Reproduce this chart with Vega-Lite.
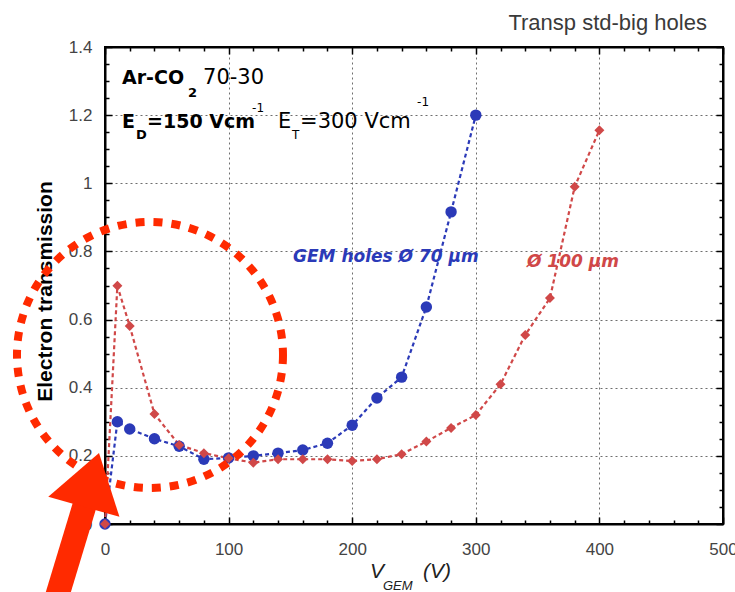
{
  "$schema": "https://vega.github.io/schema/vega-lite/v6.json",
  "width": 618,
  "height": 477,
  "autosize": "none",
  "padding": {"left": 105, "top": 47, "right": 12, "bottom": 68},
  "background": "white",
  "config": {"view": {"stroke": "black", "strokeWidth": 2}},
  "datasets": {
    "curves": [
      {"v": 0, "t": 0, "s": "GEM holes Ø 70 µm"},
      {"v": 10, "t": 0.30, "s": "GEM holes Ø 70 µm"},
      {"v": 20, "t": 0.279, "s": "GEM holes Ø 70 µm"},
      {"v": 40, "t": 0.25, "s": "GEM holes Ø 70 µm"},
      {"v": 60, "t": 0.228, "s": "GEM holes Ø 70 µm"},
      {"v": 80, "t": 0.19, "s": "GEM holes Ø 70 µm"},
      {"v": 100, "t": 0.194, "s": "GEM holes Ø 70 µm"},
      {"v": 120, "t": 0.20, "s": "GEM holes Ø 70 µm"},
      {"v": 140, "t": 0.208, "s": "GEM holes Ø 70 µm"},
      {"v": 160, "t": 0.217, "s": "GEM holes Ø 70 µm"},
      {"v": 180, "t": 0.237, "s": "GEM holes Ø 70 µm"},
      {"v": 200, "t": 0.29, "s": "GEM holes Ø 70 µm"},
      {"v": 220, "t": 0.37, "s": "GEM holes Ø 70 µm"},
      {"v": 240, "t": 0.431, "s": "GEM holes Ø 70 µm"},
      {"v": 260, "t": 0.637, "s": "GEM holes Ø 70 µm"},
      {"v": 280, "t": 0.916, "s": "GEM holes Ø 70 µm"},
      {"v": 300, "t": 1.2, "s": "GEM holes Ø 70 µm"},
      {"v": 0, "t": 0, "s": "Ø 100 µm"},
      {"v": 10, "t": 0.699, "s": "Ø 100 µm"},
      {"v": 20, "t": 0.581, "s": "Ø 100 µm"},
      {"v": 40, "t": 0.323, "s": "Ø 100 µm"},
      {"v": 60, "t": 0.232, "s": "Ø 100 µm"},
      {"v": 80, "t": 0.208, "s": "Ø 100 µm"},
      {"v": 100, "t": 0.193, "s": "Ø 100 µm"},
      {"v": 120, "t": 0.18, "s": "Ø 100 µm"},
      {"v": 140, "t": 0.19, "s": "Ø 100 µm"},
      {"v": 160, "t": 0.19, "s": "Ø 100 µm"},
      {"v": 180, "t": 0.19, "s": "Ø 100 µm"},
      {"v": 200, "t": 0.185, "s": "Ø 100 µm"},
      {"v": 220, "t": 0.19, "s": "Ø 100 µm"},
      {"v": 240, "t": 0.205, "s": "Ø 100 µm"},
      {"v": 260, "t": 0.242, "s": "Ø 100 µm"},
      {"v": 280, "t": 0.282, "s": "Ø 100 µm"},
      {"v": 300, "t": 0.32, "s": "Ø 100 µm"},
      {"v": 320, "t": 0.41, "s": "Ø 100 µm"},
      {"v": 340, "t": 0.555, "s": "Ø 100 µm"},
      {"v": 360, "t": 0.663, "s": "Ø 100 µm"},
      {"v": 380, "t": 0.99, "s": "Ø 100 µm"},
      {"v": 400, "t": 1.156, "s": "Ø 100 µm"}
    ]
  },
  "layer": [
    {
      "layer": [
        {
          "data": {"name": "curves"},
          "mark": {"type": "line", "strokeDash": [4, 3], "strokeWidth": 2.2},
          "encoding": {
            "x": {"field": "v", "type": "quantitative",
              "scale": {"domain": [0, 500], "nice": false, "zero": false},
              "axis": {
                "values": [0, 100, 200, 300, 400, 500],
                "format": "d",
                "labelFont": "Liberation Sans", "labelFontSize": 17, "labelColor": "#444",
                "labelPadding": 24, "labelFlush": false, "labelOverlap": false,
                "tickSize": -7, "tickColor": "black", "tickWidth": 1.5,
                "domainColor": "black", "domainWidth": 2,
                "grid": true, "gridDash": [2, 3], "gridColor": "#555",
                "gridOpacity": {"condition": {"test": "datum.value > 0 && datum.value < 500", "value": 0.85}, "value": 0},
                "title": null
              }},
            "y": {"field": "t", "type": "quantitative",
              "scale": {"domain": [0, 1.4], "nice": false, "zero": false},
              "axis": {
                "values": [0, 0.2, 0.4, 0.6, 0.8, 1, 1.2, 1.4],
                "format": ".1~f",
                "labelFont": "Liberation Sans", "labelFontSize": 17, "labelColor": "#444",
                "labelPadding": 20, "labelFlush": false, "labelOverlap": false,
                "tickSize": -7, "tickColor": "black", "tickWidth": 1.5,
                "domainColor": "black", "domainWidth": 2,
                "grid": true, "gridDash": [2, 3], "gridColor": "#555",
                "gridOpacity": {"condition": {"test": "datum.value > 0.01 && datum.value < 1.39", "value": 0.85}, "value": 0},
                "title": "Electron transmission",
                "titleFont": "Liberation Sans", "titleFontSize": 21, "titleFontWeight": "bold", "titleColor": "black",
                "titleX": -60, "titleY": 244, "titleBaseline": "middle", "titleAngle": -90, "titleAlign": "center"
              }},
            "color": {"field": "s", "type": "nominal", "legend": null,
              "scale": {"domain": ["GEM holes Ø 70 µm", "Ø 100 µm"], "range": ["#2b3ab8", "#d04848"]}}
          }
        },
        {
          "data": {"name": "curves"},
          "mark": {"type": "point", "filled": true, "opacity": 1},
          "encoding": {
            "x": {"field": "v", "type": "quantitative", "scale": {"domain": [0, 500], "nice": false, "zero": false}},
            "y": {"field": "t", "type": "quantitative", "scale": {"domain": [0, 1.4], "nice": false, "zero": false}},
            "color": {"field": "s", "type": "nominal", "legend": null,
              "scale": {"domain": ["GEM holes Ø 70 µm", "Ø 100 µm"], "range": ["#1e2ed2", "#dc3b35"]}},
            "shape": {"field": "s", "type": "nominal", "legend": null,
              "scale": {"domain": ["GEM holes Ø 70 µm", "Ø 100 µm"], "range": ["circle", "diamond"]}},
            "size": {"field": "s", "type": "nominal", "legend": null,
              "scale": {"domain": ["GEM holes Ø 70 µm", "Ø 100 µm"], "range": [130, 100]}}
          }
        },
        {
          "data": {"values": [
            {"v": 487, "t": 1.45, "label": "Transp std-big holes"}
          ]},
          "mark": {"type": "text", "align": "right", "baseline": "alphabetic", "font": "Liberation Sans", "fontSize": 22, "color": "#3a3a3a"},
          "encoding": {
            "x": {"field": "v", "type": "quantitative", "scale": {"domain": [0, 500], "nice": false, "zero": false}},
            "y": {"field": "t", "type": "quantitative", "scale": {"domain": [0, 1.4], "nice": false, "zero": false}},
            "text": {"field": "label"}
          }
        },
        {
          "data": {"values": [
            {"v": 13.75, "t": 1.2915, "label": "Ar-CO"},
            {"v": 13.75, "t": 1.1623, "label": "E"},
            {"v": 34.0, "t": 1.1623, "label": "=150 Vcm"}
          ]},
          "mark": {"type": "text", "align": "left", "baseline": "alphabetic", "font": "DejaVu Sans", "fontSize": 19, "fontWeight": "bold", "color": "black"},
          "encoding": {
            "x": {"field": "v", "type": "quantitative", "scale": {"domain": [0, 500], "nice": false, "zero": false}},
            "y": {"field": "t", "type": "quantitative", "scale": {"domain": [0, 1.4], "nice": false, "zero": false}},
            "text": {"field": "label"}
          }
        },
        {
          "data": {"values": [
            {"v": 67.2, "t": 1.2533, "label": "2"},
            {"v": 25.1, "t": 1.130, "label": "D"}
          ]},
          "mark": {"type": "text", "align": "left", "baseline": "alphabetic", "font": "DejaVu Sans", "fontSize": 13, "fontWeight": "bold", "color": "black"},
          "encoding": {
            "x": {"field": "v", "type": "quantitative", "scale": {"domain": [0, 500], "nice": false, "zero": false}},
            "y": {"field": "t", "type": "quantitative", "scale": {"domain": [0, 1.4], "nice": false, "zero": false}},
            "text": {"field": "label"}
          }
        },
        {
          "data": {"values": [
            {"v": 79.3, "t": 1.2915, "label": "70-30"},
            {"v": 140.0, "t": 1.1623, "label": "E"},
            {"v": 157.8, "t": 1.1623, "label": "=300 Vcm"}
          ]},
          "mark": {"type": "text", "align": "left", "baseline": "alphabetic", "font": "DejaVu Sans", "fontSize": 21, "fontWeight": "normal", "color": "black"},
          "encoding": {
            "x": {"field": "v", "type": "quantitative", "scale": {"domain": [0, 500], "nice": false, "zero": false}},
            "y": {"field": "t", "type": "quantitative", "scale": {"domain": [0, 1.4], "nice": false, "zero": false}},
            "text": {"field": "label"}
          }
        },
        {
          "data": {"values": [
            {"v": 151.3, "t": 1.130, "label": "T"},
            {"v": 119.0, "t": 1.209, "label": "-1"},
            {"v": 252.5, "t": 1.228, "label": "-1"}
          ]},
          "mark": {"type": "text", "align": "left", "baseline": "alphabetic", "font": "DejaVu Sans", "fontSize": 12, "fontWeight": "normal", "color": "black"},
          "encoding": {
            "x": {"field": "v", "type": "quantitative", "scale": {"domain": [0, 500], "nice": false, "zero": false}},
            "y": {"field": "t", "type": "quantitative", "scale": {"domain": [0, 1.4], "nice": false, "zero": false}},
            "text": {"field": "label"}
          }
        },
        {
          "data": {"values": [
            {"v": 152.1, "t": 0.769, "label": "GEM holes Ø 70 µm", "s": "GEM holes Ø 70 µm"},
            {"v": 341.4, "t": 0.754, "label": "Ø 100 µm", "s": "Ø 100 µm"}
          ]},
          "mark": {"type": "text", "align": "left", "baseline": "alphabetic", "font": "DejaVu Sans", "fontSize": 17, "fontWeight": "bold", "fontStyle": "italic"},
          "encoding": {
            "x": {"field": "v", "type": "quantitative", "scale": {"domain": [0, 500], "nice": false, "zero": false}},
            "y": {"field": "t", "type": "quantitative", "scale": {"domain": [0, 1.4], "nice": false, "zero": false}},
            "text": {"field": "label"},
            "color": {"field": "s", "type": "nominal", "legend": null,
              "scale": {"domain": ["GEM holes Ø 70 µm", "Ø 100 µm"], "range": ["#2a2fa8", "#e03c3c"]}}
          }
        },
        {
          "data": {"values": [
            {"v": 214.4, "t": -0.1585, "label": "V"},
            {"v": 257.3, "t": -0.1585, "label": "(V)"}
          ]},
          "mark": {"type": "text", "align": "left", "baseline": "alphabetic", "font": "Liberation Sans", "fontSize": 21, "fontStyle": "italic", "color": "#222"},
          "encoding": {
            "x": {"field": "v", "type": "quantitative", "scale": {"domain": [0, 500], "nice": false, "zero": false}},
            "y": {"field": "t", "type": "quantitative", "scale": {"domain": [0, 1.4], "nice": false, "zero": false}},
            "text": {"field": "label"}
          }
        },
        {
          "data": {"values": [
            {"v": 224.9, "t": -0.1937, "label": "GEM"}
          ]},
          "mark": {"type": "text", "align": "left", "baseline": "alphabetic", "font": "Liberation Sans", "fontSize": 13, "fontStyle": "italic", "color": "#222"},
          "encoding": {
            "x": {"field": "v", "type": "quantitative", "scale": {"domain": [0, 500], "nice": false, "zero": false}},
            "y": {"field": "t", "type": "quantitative", "scale": {"domain": [0, 1.4], "nice": false, "zero": false}},
            "text": {"field": "label"}
          }
        },
        {
          "data": {"values": [{"v": 36.4, "t": 0.496}]},
          "mark": {"type": "point", "shape": "circle", "size": 70756, "filled": false, "stroke": "#ff2a00", "strokeWidth": 8, "strokeDash": [9, 9], "opacity": 1},
          "encoding": {
            "x": {"field": "v", "type": "quantitative", "scale": {"domain": [0, 500], "nice": false, "zero": false}},
            "y": {"field": "t", "type": "quantitative", "scale": {"domain": [0, 1.4], "nice": false, "zero": false}}
          }
        },
        {
          "data": {"values": [{"v": -39.2, "t": -0.217, "v2": -16.2, "t2": 0.0587}]},
          "mark": {"type": "rule", "color": "#ff2a00", "strokeWidth": 24, "strokeCap": "butt"},
          "encoding": {
            "x": {"field": "v", "type": "quantitative", "scale": {"domain": [0, 500], "nice": false, "zero": false}},
            "y": {"field": "t", "type": "quantitative", "scale": {"domain": [0, 1.4], "nice": false, "zero": false}},
            "x2": {"field": "v2"},
            "y2": {"field": "t2"}
          }
        },
        {
          "data": {"values": [{"v": -12.2, "t": 0.1136}]},
          "mark": {"type": "point", "shape": "M0,-0.6L0.66,0.4L-0.66,0.4Z", "size": 12544, "angle": 15.7, "filled": true, "color": "#ff2a00", "opacity": 1},
          "encoding": {
            "x": {"field": "v", "type": "quantitative", "scale": {"domain": [0, 500], "nice": false, "zero": false}},
            "y": {"field": "t", "type": "quantitative", "scale": {"domain": [0, 1.4], "nice": false, "zero": false}}
          }
        }
      ]
    },
    {
      "data": {"name": "curves"},
      "mark": {"type": "point", "opacity": 0},
      "encoding": {
        "x": {"field": "v", "type": "quantitative",
          "scale": {"domain": [0, 500], "nice": false, "zero": false},
          "axis": {
            "orient": "bottom",
            "values": [20,40,60,80,120,140,160,180,220,240,260,280,320,340,360,380,420,440,460,480],
            "labels": false, "grid": false, "title": null, "domain": false,
            "tickSize": -4, "tickColor": "black", "tickWidth": 1.5
          }},
        "y": {"field": "t", "type": "quantitative",
          "scale": {"domain": [0, 1.4], "nice": false, "zero": false},
          "axis": {
            "orient": "left",
            "values": [0.05,0.1,0.15,0.25,0.3,0.35,0.45,0.5,0.55,0.65,0.7,0.75,0.85,0.9,0.95,1.05,1.1,1.15,1.25,1.3,1.35],
            "labels": false, "grid": false, "title": null, "domain": false,
            "tickSize": -4, "tickColor": "black", "tickWidth": 1.5
          }}
      }
    },
    {
      "data": {"name": "curves"},
      "mark": {"type": "point", "opacity": 0},
      "encoding": {
        "x": {"field": "v", "type": "quantitative",
          "scale": {"domain": [0, 500], "nice": false, "zero": false},
          "axis": {
            "orient": "top",
            "values": [0,20,40,60,80,100,120,140,160,180,200,220,240,260,280,300,320,340,360,380,400,420,440,460,480,500],
            "labels": false, "grid": false, "title": null,
            "tickSize": {"condition": {"test": "datum.value % 100 === 0", "value": -7}, "value": -4},
            "tickColor": "black", "tickWidth": 1.5,
            "domainColor": "black", "domainWidth": 2
          }},
        "y": {"field": "t", "type": "quantitative",
          "scale": {"domain": [0, 1.4], "nice": false, "zero": false},
          "axis": {
            "orient": "right",
            "values": [0,0.05,0.1,0.15,0.2,0.25,0.3,0.35,0.4,0.45,0.5,0.55,0.6,0.65,0.7,0.75,0.8,0.85,0.9,0.95,1,1.05,1.1,1.15,1.2,1.25,1.3,1.35,1.4],
            "labels": false, "grid": false, "title": null,
            "tickSize": {"condition": {"test": "abs(datum.value*5 - round(datum.value*5)) < 0.001", "value": -7}, "value": -4},
            "tickColor": "black", "tickWidth": 1.5,
            "domainColor": "black", "domainWidth": 2
          }}
      }
    }
  ],
  "resolve": {"axis": {"x": "independent", "y": "independent"}}
}
